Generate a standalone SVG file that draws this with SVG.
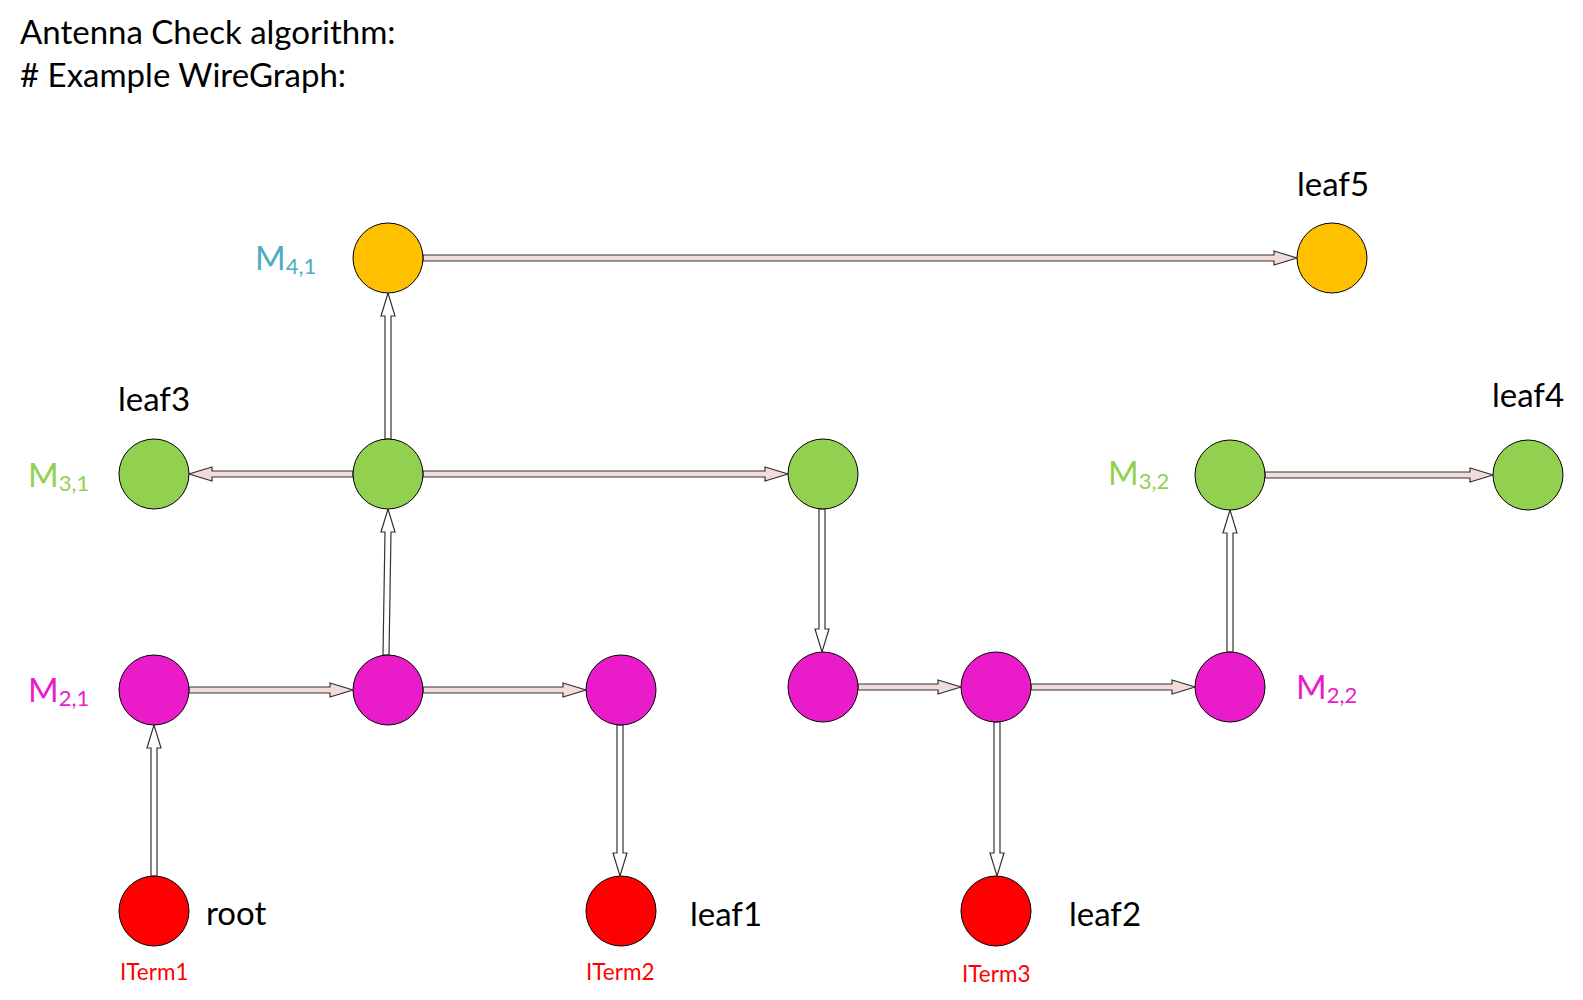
<svg xmlns="http://www.w3.org/2000/svg" width="1583" height="1000" viewBox="0 0 1583 1000">
  <style>
    text { font-family: Lato, "Liberation Sans", sans-serif; }
    .title { font-size: 33px; fill: #000; }
    .lbl { font-size: 33px; fill: #000; }
    .m { font-size: 33px; }
    .sub { font-size: 22px; }
    .iterm { font-size: 22.5px; fill: #ff0000; }
    .node { stroke: #000; stroke-width: 1; }
    .orange { fill: #ffc000; }
    .green { fill: #92d050; }
    .magenta { fill: #ea1bc9; }
    .red { fill: #ff0000; }
    .c4 { fill: #4bacc6; }
    .c3 { fill: #92d050; }
    .c2 { fill: #ea1bc9; }
    .h { fill: #f2dcdb; stroke: #333; stroke-width: 1.2; }
    .v { fill: #ffffff; stroke: #333; stroke-width: 1.2; }
  </style>

  <text class="title" x="20" y="44">Antenna Check algorithm:</text>
  <text class="title" x="20" y="87"># Example WireGraph:</text>

  <!-- connectors: block arrows (shaft 6px, head 14px wide, 23px long) -->
  <g id="connectors">
    <!-- M4,1 -> leaf5 -->
    <path class="h" d="M423,255 H1274 V251 L1297,258 L1274,265 V261 H423 Z"/>
    <!-- center green -> M4,1 -->
    <path class="v" d="M385,439 V316 H381 L388,293 L395,316 H391 V439 Z"/>
    <!-- center green -> leaf3 -->
    <path class="h" d="M353,471 H212 V467 L189,474 L212,481 V477 H353 Z"/>
    <!-- center green -> right green -->
    <path class="h" d="M423,471 H765 V467 L788,474 L765,481 V477 H423 Z"/>
    <!-- magenta (388) -> center green -->
    <path class="v" d="M383,655 L385,532 H381 L388,509 L395,532 H391 L389,655 Z"/>
    <!-- right green -> magenta (823) -->
    <path class="v" d="M819,509 V629 H815 L822,652 L829,629 H825 V509 Z"/>
    <!-- M2,1 -> magenta (388) -->
    <path class="h" d="M189,687 H330 V683 L353,690 L330,697 V693 H189 Z"/>
    <!-- magenta (388) -> magenta (621) -->
    <path class="h" d="M423,687 H563 V683 L586,690 L563,697 V693 H423 Z"/>
    <!-- magenta (621) -> leaf1 -->
    <path class="v" d="M617,725 V853 H613 L620,876 L627,853 H623 V725 Z"/>
    <!-- root -> M2,1 -->
    <path class="v" d="M151,876 V748 H147 L154,725 L161,748 H157 V876 Z"/>
    <!-- magenta (823) -> magenta (996) -->
    <path class="h" d="M858,684 H938 V680 L961,687 L938,694 V690 H858 Z"/>
    <!-- magenta (996) -> M2,2 -->
    <path class="h" d="M1031,684 H1172 V680 L1195,687 L1172,694 V690 H1031 Z"/>
    <!-- magenta (996) -> leaf2 -->
    <path class="v" d="M994,722 V853 H990 L997,876 L1004,853 H1000 V722 Z"/>
    <!-- M2,2 -> M3,2 -->
    <path class="v" d="M1227,652 V533 H1223 L1230,510 L1237,533 H1233 V652 Z"/>
    <!-- M3,2 -> leaf4 -->
    <path class="h" d="M1265,472 H1470 V468 L1493,475 L1470,482 V478 H1265 Z"/>
  </g>

  <!-- layer 4 -->
  <g id="m41">
    <circle class="node orange" cx="388" cy="258" r="35"/>
    <text class="c4" x="255" y="270"><tspan class="m">M</tspan><tspan class="sub" dy="4">4,1</tspan></text>
  </g>
  <g id="leaf5">
    <circle class="node orange" cx="1332" cy="258" r="35"/>
    <text class="lbl" x="1297" y="196">leaf5</text>
  </g>

  <!-- layer 3 -->
  <g id="leaf3">
    <circle class="node green" cx="154" cy="474" r="35"/>
    <text class="lbl" x="118" y="411">leaf3</text>
    <text class="c3" x="28" y="487"><tspan class="m">M</tspan><tspan class="sub" dy="4">3,1</tspan></text>
  </g>
  <g id="m31-center">
    <circle class="node green" cx="388" cy="474" r="35"/>
  </g>
  <g id="m31-right">
    <circle class="node green" cx="823" cy="474" r="35"/>
  </g>
  <g id="m32">
    <circle class="node green" cx="1230" cy="475" r="35"/>
    <text class="c3" x="1108" y="485"><tspan class="m">M</tspan><tspan class="sub" dy="4">3,2</tspan></text>
  </g>
  <g id="leaf4">
    <circle class="node green" cx="1528" cy="475" r="35"/>
    <text class="lbl" x="1492" y="407">leaf4</text>
  </g>

  <!-- layer 2 -->
  <g id="m21">
    <circle class="node magenta" cx="154" cy="690" r="35"/>
    <text class="c2" x="28" y="702"><tspan class="m">M</tspan><tspan class="sub" dy="4">2,1</tspan></text>
  </g>
  <g id="m21-mid">
    <circle class="node magenta" cx="388" cy="690" r="35"/>
  </g>
  <g id="m21-right">
    <circle class="node magenta" cx="621" cy="690" r="35"/>
  </g>
  <g id="m22-left">
    <circle class="node magenta" cx="823" cy="687" r="35"/>
  </g>
  <g id="m22-mid">
    <circle class="node magenta" cx="996" cy="687" r="35"/>
  </g>
  <g id="m22">
    <circle class="node magenta" cx="1230" cy="687" r="35"/>
    <text class="c2" x="1296" y="699"><tspan class="m">M</tspan><tspan class="sub" dy="4">2,2</tspan></text>
  </g>

  <!-- terminals -->
  <g id="root">
    <circle class="node red" cx="154" cy="911" r="35"/>
    <text class="lbl" x="206" y="925">root</text>
    <text class="iterm" x="120" y="980">ITerm1</text>
  </g>
  <g id="leaf1">
    <circle class="node red" cx="621" cy="911" r="35"/>
    <text class="lbl" x="690" y="926">leaf1</text>
    <text class="iterm" x="586" y="980">ITerm2</text>
  </g>
  <g id="leaf2">
    <circle class="node red" cx="996" cy="911" r="35"/>
    <text class="lbl" x="1069" y="926">leaf2</text>
    <text class="iterm" x="962" y="982">ITerm3</text>
  </g>
</svg>
